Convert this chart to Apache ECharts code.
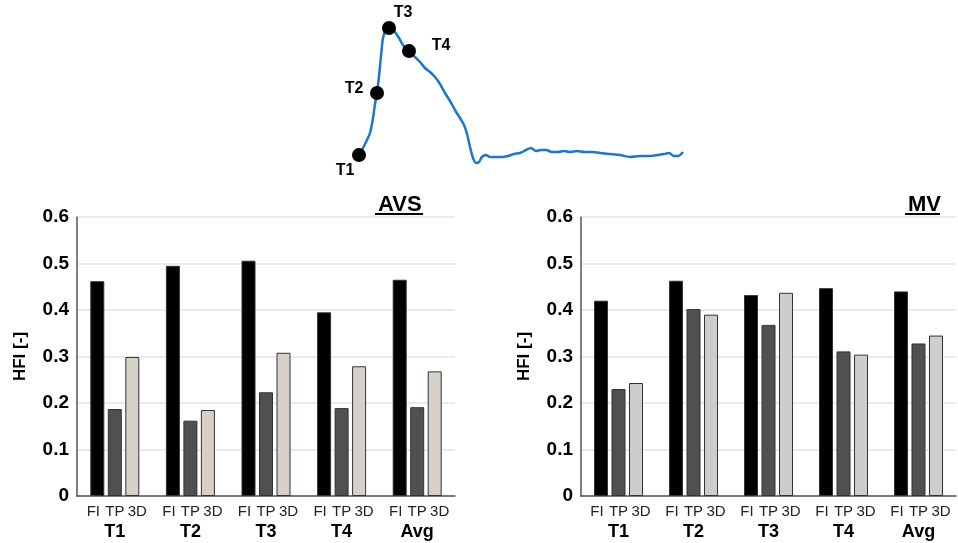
<!DOCTYPE html>
<html>
<head>
<meta charset="utf-8">
<script src="https://cdn.jsdelivr.net/npm/echarts@6/dist/echarts.min.js"></script>
<style>html,body{margin:0;padding:0;background:#fff;}#c{width:958px;height:543px;}</style>
</head>
<body>
<div id="c"></div>
<script>
// ---- data ----
const categories = ['T1', 'T2', 'T3', 'T4', 'Avg'];
const methods = ['FI', 'TP', '3D'];
const yTicks = [0, 0.1, 0.2, 0.3, 0.4, 0.5, 0.6];
const avsFI = [0.462, 0.495, 0.506, 0.395, 0.465];
const avsTP = [0.187, 0.162, 0.223, 0.189, 0.191];
const avs3D = [0.299, 0.185, 0.308, 0.279, 0.268];
const mvFI = [0.420, 0.463, 0.432, 0.447, 0.440];
const mvTP = [0.230, 0.402, 0.368, 0.311, 0.328];
const mv3D = [0.243, 0.390, 0.437, 0.304, 0.345];
// waveform inset (time, amplitude in arbitrary units)
const waveT = [19,22,26,30,33,35,37,39,41,43,46,49,52,55,59,63,67,70,75,80,85,90,95,100,105,110,115,120,124,127,130,133,136,139,142,146,150,155,162,168,174,180,186,191,196,201,206,212,218,224,230,237,244,252,260,270,280,290,300,310,318,324,329,334,338,343];
const waveA = [15,20,28,37,52,66,77,94,114,132,141,142,141,138,132,125,120,117,113,108,102,98,93,86,77,69,60,52,45,36,23,12,7,8,13,15,13,13,13,14,16,17,20,22,19,20,20,18,18,19,18,19,18,18,17,16,15,13,14,14,15,16,17,14,14,18];
const markerNames = ['T1', 'T2', 'T3', 'T4'];
const markerT = [19, 37, 49, 69];
const markerA = [15, 77, 142, 119];

// ---- chart ----
const chart = echarts.init(document.getElementById('c'));
const FONT = 'Liberation Sans, Arial, sans-serif';
const colors3D = ['#d5d1c8', '#cdcdcd'];
const labelShift = [-4, 0, 5];
const grids = [
  {left: 77, top: 217, width: 378, height: 279},
  {left: 581, top: 217, width: 375, height: 279},
  {left: 340, top: 20, width: 360, height: 150}
];
function xCat(i) {
  return {
    type: 'category', gridIndex: i, data: categories,
    axisLine: {lineStyle: {color: '#555', width: 1.5}},
    axisTick: {show: false},
    axisLabel: {fontFamily: FONT, fontWeight: 'bold', fontSize: 18, color: '#000', margin: 27}
  };
}
function yVal(i) {
  return {
    type: 'value', gridIndex: i, min: yTicks[0], max: yTicks[yTicks.length - 1], interval: 0.1,
    name: 'HFI [-]', nameLocation: 'middle', nameGap: 48,
    nameTextStyle: {fontFamily: FONT, fontWeight: 'bold', fontSize: 17, color: '#000'},
    axisLine: {show: true, lineStyle: {color: '#555', width: 1.5}},
    axisTick: {show: false},
    splitLine: {lineStyle: {color: '#e4e4e4', width: 1.5}},
    axisLabel: {fontFamily: FONT, fontWeight: 'bold', fontSize: 19, color: '#000', margin: 8,
      formatter: v => (v === 0 ? '0' : v.toFixed(1))}
  };
}
function barSeries(k, data, gi, color) {
  const name = methods[k];
  return {
    type: 'bar', name: name, data: data, xAxisIndex: gi, yAxisIndex: gi,
    barWidth: 14, barGap: '25%',
    itemStyle: {color: color, borderColor: '#333', borderWidth: 1},
    label: {show: true, position: 'bottom', distance: 8, formatter: name,
      offset: [labelShift[k], 0],
      fontFamily: FONT, fontSize: 15, color: '#222'}
  };
}
const markerData = markerNames.map((n, i) => [markerT[i], markerA[i]]);
const labelOffsets = [[-14, 16], [-23, -4], [14, -15], [32, -5]];

chart.setOption({
  animation: false,
  backgroundColor: '#fff',
  grid: grids,
  xAxis: [xCat(0), xCat(1), {type: 'value', gridIndex: 2, min: 0, max: 360, show: false}],
  yAxis: [yVal(0), yVal(1), {type: 'value', gridIndex: 2, min: 0, max: 150, show: false}],
  title: [
    {text: 'AVS', left: 373, top: 189, textStyle: {fontFamily: FONT, fontWeight: 'bold', fontSize: 22, color: '#000'}},
    {text: 'MV', left: 903, top: 189, textStyle: {fontFamily: FONT, fontWeight: 'bold', fontSize: 22, color: '#000'}}
  ],
  graphic: [
    {type: 'line', shape: {x1: 375, y1: 214, x2: 423, y2: 214}, style: {stroke: '#000', lineWidth: 2}},
    {type: 'line', shape: {x1: 905, y1: 214, x2: 940, y2: 214}, style: {stroke: '#000', lineWidth: 2}}
  ],
  series: [
    barSeries(0, avsFI, 0, '#000000'),
    barSeries(1, avsTP, 0, '#505050'),
    barSeries(2, avs3D, 0, colors3D[0]),
    barSeries(0, mvFI, 1, '#000000'),
    barSeries(1, mvTP, 1, '#505050'),
    barSeries(2, mv3D, 1, colors3D[1]),
    {
      type: 'line', xAxisIndex: 2, yAxisIndex: 2, smooth: 0.3, symbol: 'none',
      data: waveT.map((t, i) => [t, waveA[i]]),
      lineStyle: {color: '#1f77c9', width: 2.5}
    },
    {
      type: 'scatter', xAxisIndex: 2, yAxisIndex: 2, symbolSize: 14,
      itemStyle: {color: '#000', opacity: 1}, z: 5,
      data: markerData.map((d, i) => ({
        value: d,
        label: {show: true, position: 'inside', offset: labelOffsets[i], formatter: markerNames[i],
          fontFamily: FONT, fontWeight: 'bold', fontSize: 16, color: '#000'}
      }))
    }
  ]
});
</script>
</body>
</html>
